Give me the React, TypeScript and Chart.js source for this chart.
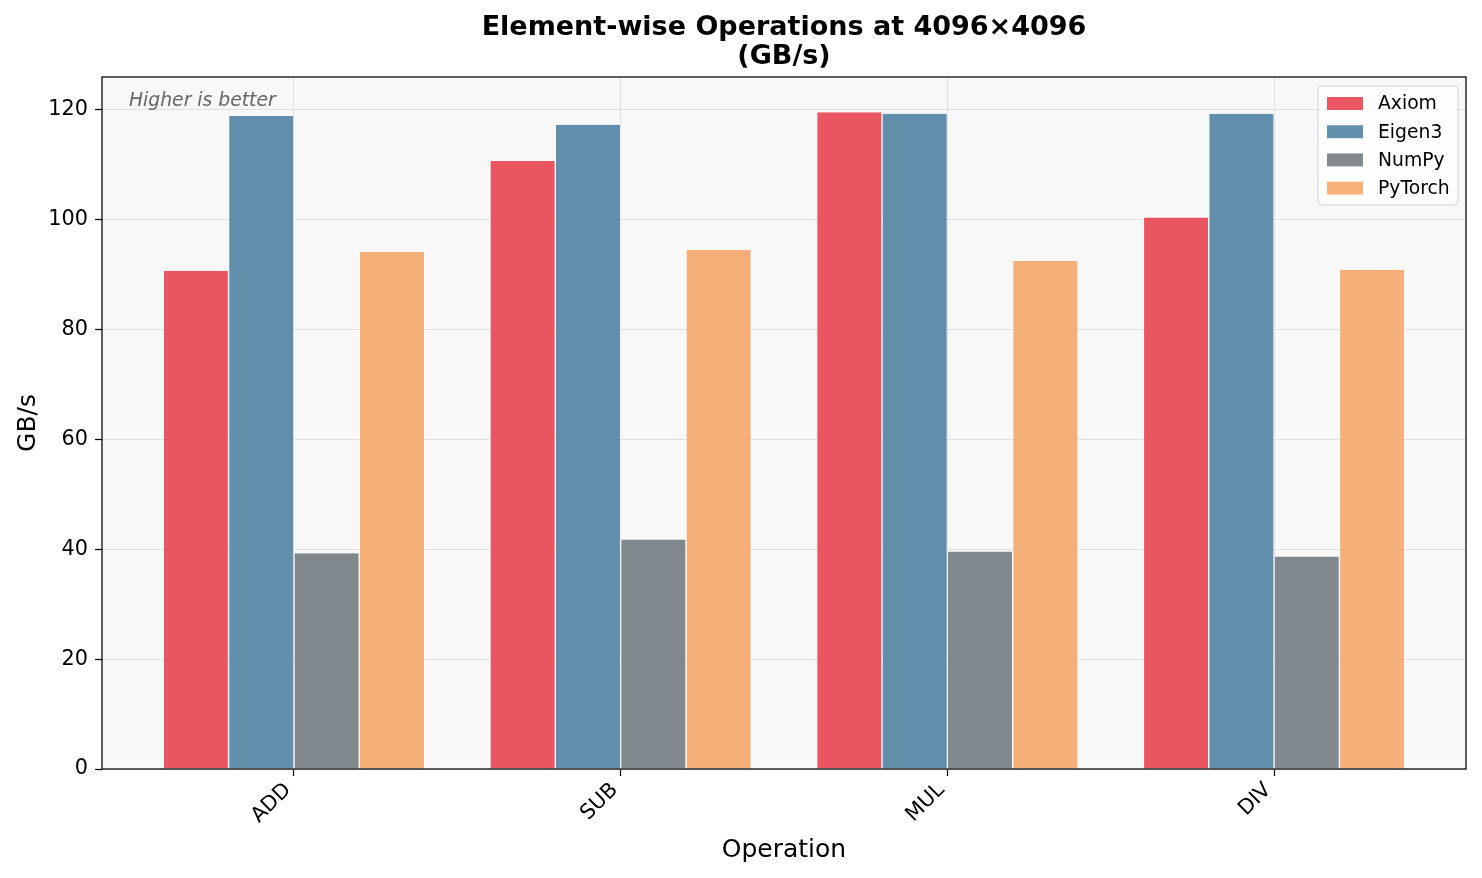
import React, { useEffect, useRef } from 'react';
import { Chart, registerables } from 'chart.js';

Chart.register(...registerables);

const operations = ['ADD', 'SUB', 'MUL', 'DIV'];
const seriesNames = ['Axiom', 'Eigen3', 'NumPy', 'PyTorch'];
const axiomValues = [90.7, 110.7, 119.6, 100.4];
const eigen3Values = [118.9, 117.3, 119.3, 119.3];
const numpyValues = [39.3, 41.8, 39.6, 38.7];
const pytorchValues = [94.2, 94.5, 92.5, 90.9];
const seriesColors = ['rgba(230,57,70,0.85)', 'rgba(69,123,157,0.85)', 'rgba(108,117,125,0.85)', 'rgba(244,162,97,0.85)'];
const titleLines = ['Element-wise Operations at 4096×4096', '(GB/s)'];
const yAxisTitle = 'GB/s';
const xAxisTitle = 'Operation';
const annotationText = 'Higher is better';
const yMin = 0;
const yMax = 126;
const yStep = 20;
const xMin = -0.5875;
const xMax = 3.5875;

const FONT = '"DejaVu Sans", sans-serif';

const decoPlugin = {
  id: 'deco',
  beforeDraw(chart: any) {
    const { ctx, chartArea: ca } = chart;
    ctx.save();
    ctx.fillStyle = '#f8f8f8';
    ctx.fillRect(ca.left, ca.top, ca.right - ca.left, ca.bottom - ca.top);
    ctx.restore();
  },
  afterDraw(chart: any) {
    const { ctx, chartArea: ca } = chart;
    ctx.save();
    // axes frame
    ctx.strokeStyle = '#000';
    ctx.lineWidth = 1.25;
    ctx.strokeRect(ca.left, ca.top, ca.right - ca.left, ca.bottom - ca.top);

    // title
    ctx.fillStyle = '#000';
    ctx.font = `bold 27px ${FONT}`;
    ctx.textAlign = 'center';
    ctx.textBaseline = 'middle';
    const cx = (ca.left + ca.right) / 2;
    ctx.fillText(titleLines[0], cx, 28);
    ctx.fillText(titleLines[1], cx, 57);

    // annotation
    ctx.font = `italic 18.75px ${FONT}`;
    ctx.fillStyle = '#666';
    ctx.textAlign = 'left';
    ctx.fillText(annotationText, ca.left + 27, ca.top + 24);

    // legend
    const bw = 140, bh = 119;
    const bx = ca.right - 8 - bw;
    const by = ca.top + 9;
    ctx.beginPath();
    const r = 4;
    ctx.moveTo(bx + r, by);
    ctx.lineTo(bx + bw - r, by);
    ctx.quadraticCurveTo(bx + bw, by, bx + bw, by + r);
    ctx.lineTo(bx + bw, by + bh - r);
    ctx.quadraticCurveTo(bx + bw, by + bh, bx + bw - r, by + bh);
    ctx.lineTo(bx + r, by + bh);
    ctx.quadraticCurveTo(bx, by + bh, bx, by + bh - r);
    ctx.lineTo(bx, by + r);
    ctx.quadraticCurveTo(bx, by, bx + r, by);
    ctx.closePath();
    ctx.fillStyle = 'rgba(255,255,255,0.8)';
    ctx.fill();
    ctx.strokeStyle = '#d0d0d0';
    ctx.lineWidth = 1;
    ctx.stroke();
    ctx.font = `18.75px ${FONT}`;
    ctx.textBaseline = 'middle';
    seriesNames.forEach((name, i) => {
      const cy = by + 17.5 + i * 28.2;
      ctx.fillStyle = seriesColors[i];
      ctx.fillRect(bx + 9, cy - 6.5, 36, 13);
      ctx.fillStyle = '#000';
      ctx.fillText(name, bx + 60, cy + 1);
    });
    ctx.restore();
  },
};

export default function App() {
  const ref = useRef<HTMLCanvasElement | null>(null);
  useEffect(() => {
    if (!ref.current) return;
    const allValues = [axiomValues, eigen3Values, numpyValues, pytorchValues];
    const chart = new Chart(ref.current, {
      type: 'bar',
      data: {
        datasets: seriesNames.map((name, k) => ({
          label: name,
          data: allValues[k].map((v, i) => ({ x: i, y: v })),
          backgroundColor: seriesColors[k],
          borderColor: '#ffffff',
          borderWidth: { top: 0, left: 0.7, right: 0.7, bottom: 0 },
          borderSkipped: false,
          categoryPercentage: 0.8,
          barPercentage: 1.0,
        })),
      },
      options: {
        animation: false,
        responsive: false,
        devicePixelRatio: 1,
        font: { family: FONT },
        layout: { padding: { left: 0, right: 16, top: 77, bottom: 0 } },
        plugins: {
          legend: { display: false },
          title: { display: false },
          tooltip: { enabled: false },
        },
        scales: {
          x: {
            type: 'linear',
            min: xMin,
            max: xMax,
            offset: false,
            afterFit: (s: any) => { s.height = 109; },
            border: { display: false },
            grid: { offset: false, color: '#e0e0e0', lineWidth: 1, tickColor: '#000', tickLength: 7, tickWidth: 1.25 },
            ticks: {
              stepSize: 1,
              includeBounds: false,
              autoSkip: false,
              minRotation: 45,
              maxRotation: 45,
              padding: 2,
              labelOffset: -6,
              color: '#000',
              font: { family: FONT, size: 20.8 },
              callback: (v: any) => {
                const i = Math.round(Number(v));
                return Math.abs(Number(v) - i) < 1e-6 && i >= 0 && i < operations.length ? operations[i] : '';
              },
            },
            title: { display: true, text: xAxisTitle, color: '#000', font: { family: FONT, size: 25 }, padding: { top: 0, bottom: 13 } },
          },
          y: {
            min: yMin,
            max: yMax,
            afterFit: (s: any) => { s.width = 102; },
            border: { display: false },
            grid: { color: '#e0e0e0', lineWidth: 1, tickColor: '#000', tickLength: 7, tickWidth: 1.25 },
            ticks: {
              stepSize: yStep,
              includeBounds: false,
              padding: 7,
              color: '#000',
              font: { family: FONT, size: 20.8 },
            },
            title: { display: true, text: yAxisTitle, color: '#000', font: { family: FONT, size: 25 }, padding: { top: 13, bottom: 0 } },
          },
        },
      } as any,
      plugins: [decoPlugin],
    });
    return () => chart.destroy();
  }, []);
  return (
    <div style={{ position: 'absolute', left: 0, top: 0, width: 1482, height: 878, background: '#fff' }}>
      <canvas ref={ref} width={1482} height={878} style={{ display: 'block' }} />
    </div>
  );
}
